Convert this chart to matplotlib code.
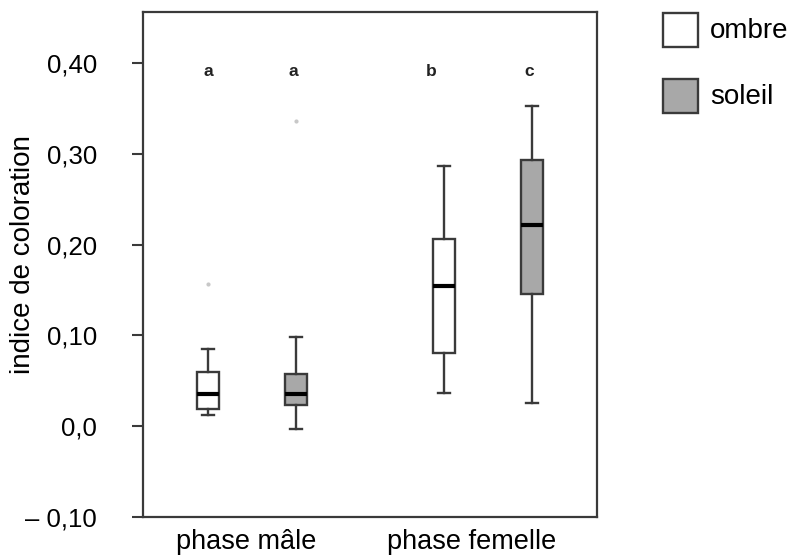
import matplotlib
matplotlib.use('Agg')
import matplotlib.pyplot as plt
from matplotlib.patches import Rectangle

plt.rcParams['font.family'] = ['Liberation Sans', 'DejaVu Sans']

# summary values (indice de coloration)
groups = ['phase mâle', 'phase femelle']
series = ['ombre', 'soleil']
whislo = [0.012, -0.003, 0.036, 0.026]
q1 = [0.019, 0.023, 0.081, 0.145]
med = [0.035, 0.035, 0.154, 0.221]
q3 = [0.060, 0.057, 0.206, 0.293]
whishi = [0.085, 0.098, 0.286, 0.352]
fliers = [[0.156], [0.336], [], []]
letters = ['a', 'a', 'b', 'c']

yticks = [-0.10, 0.0, 0.10, 0.20, 0.30, 0.40]
yticklabels = ['\u2013 0,10', '0,0', '0,10', '0,20', '0,30', '0,40']

fills = ['white', '#a8a8a8']
edge = '#3a3a3a'

fig = plt.figure(figsize=(7.87, 5.58), dpi=100)
ax = fig.add_axes([0.1817, 0.0735, 0.5769, 0.905])

centers = [0.0, 2.68]
pos = []
for c in centers:
    pos += [c - 0.5, c + 0.5]

stats = []
for i in range(4):
    stats.append(dict(whislo=whislo[i], q1=q1[i], med=med[i], q3=q3[i],
                      whishi=whishi[i], fliers=fliers[i]))

bp = ax.bxp(stats, positions=pos, widths=0.25, capwidths=0.14,
            patch_artist=True, manage_ticks=False,
            boxprops=dict(edgecolor=edge, linewidth=1.7),
            whiskerprops=dict(color=edge, linewidth=1.7),
            capprops=dict(color=edge, linewidth=1.7),
            medianprops=dict(color='black', linewidth=3),
            flierprops=dict(marker='o', markersize=3, markerfacecolor='#c8c8c8',
                            markeredgecolor='none'))
for i, b in enumerate(bp['boxes']):
    b.set_facecolor(fills[i % 2])

letter_dx = [0.0, -0.03, -0.14, -0.03]
for i, t in enumerate(letters):
    ax.text(pos[i] + letter_dx[i], 0.39, t, ha='center', va='center',
            fontsize=12.5, fontweight='bold', color='#222222')

ax.set_xlim(-1.239, 3.92)
ax.set_ylim(-0.10, 0.456)
ax.set_yticks(yticks)
ax.set_yticklabels(yticklabels, fontsize=18.5)
# group labels sit a little left of the box pairs in the original
ax.set_xticks([centers[0] - 0.07, centers[1] - 0.19])
ax.set_xticklabels(groups, fontsize=19.5)
ax.tick_params(axis='x', length=0, pad=9)
ax.tick_params(axis='y', length=8, width=1.5, color=edge, pad=25)
ax.set_ylabel('indice de coloration', fontsize=20, labelpad=0)
ax.yaxis.set_label_coords(-0.235, 0.52)
for s in ax.spines.values():
    s.set_linewidth(1.6)
    s.set_color(edge)

# legend drawn by hand, outside the axes
leg_y = [0.9158, 0.7975]
for k in range(2):
    fig.add_artist(Rectangle((0.8424, leg_y[k]), 0.0445, 0.0615,
                             transform=fig.transFigure, facecolor=fills[k],
                             edgecolor=edge, linewidth=1.7))
    fig.text(0.902, leg_y[k] + 0.029, series[k], ha='left', va='center',
             fontsize=20)

fig.savefig('out.png', dpi=100)
